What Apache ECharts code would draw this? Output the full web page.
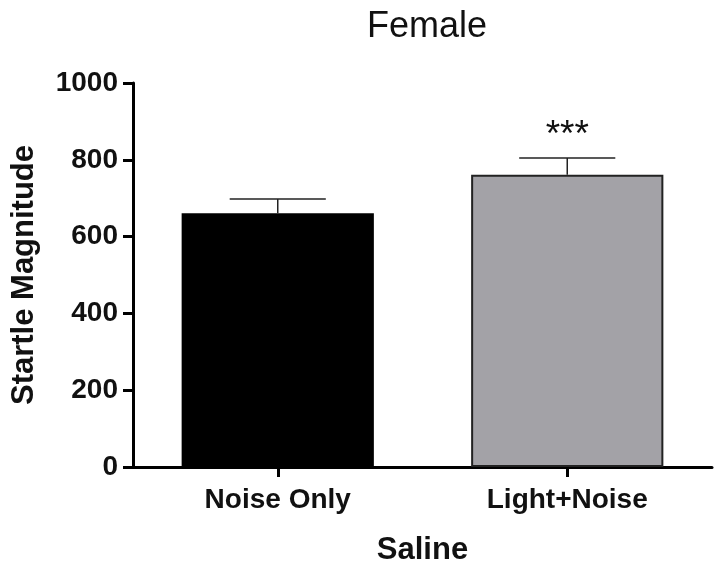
<!DOCTYPE html>
<html>
<head>
<meta charset="utf-8">
<script src="https://cdn.jsdelivr.net/npm/echarts@6/dist/echarts.min.js"></script>
<style>
  html, body { margin: 0; padding: 0; background: #fff; }
  #chart { width: 714px; height: 567px; }
</style>
</head>
<body>
<div id="chart"></div>
<script>
// ---- Data ----
const categories = ['Noise Only', 'Light+Noise'];
const means = [661, 761];
const sems = [37, 44];
const significance = ['', '***'];
const barColors = ['#000000', '#a3a2a7'];
const yMin = 0, yMax = 1000, yInterval = 200;
const titleText = 'Female';
const xAxisName = 'Saline';
const yAxisName = 'Startle Magnitude';

const FONT = '"Liberation Sans", Arial, Helvetica, sans-serif';

const chart = echarts.init(document.getElementById('chart'), null, { renderer: 'canvas' });

const barData = means.map((v, i) => ({
  value: v,
  itemStyle: {
    color: barColors[i],
    borderColor: i === 0 ? '#000' : '#222',
    borderWidth: i === 0 ? 0 : 2
  }
}));

const errData = means.map((v, i) => [i, v, sems[i]]);

const option = {
  animation: false,
  backgroundColor: '#ffffff',
  title: {
    text: titleText,
    left: 422,
    top: 4,
    textAlign: 'center',
    textStyle: { fontFamily: FONT, fontSize: 36, fontWeight: 'normal', color: '#111' }
  },
  grid: { left: 133, right: 2, top: 83, bottom: 100, containLabel: false, outerBoundsMode: 'none' },
  xAxis: {
    type: 'category',
    data: categories,
    boundaryGap: true,
    name: xAxisName,
    nameLocation: 'middle',
    nameGap: 68,
    nameTextStyle: { fontFamily: FONT, fontSize: 31, fontWeight: 'bold', color: '#111', verticalAlign: 'top' },
    axisLine: { show: true, lineStyle: { color: '#000', width: 3 } },
    axisTick: { show: true, alignWithLabel: true, length: 10, lineStyle: { color: '#000', width: 3 } },
    axisLabel: { fontFamily: FONT, fontSize: 28, fontWeight: 'bold', color: '#111', margin: 19 },
    splitLine: { show: false }
  },
  yAxis: {
    type: 'value',
    min: yMin,
    max: yMax,
    interval: yInterval,
    name: yAxisName,
    nameLocation: 'middle',
    nameRotate: 90,
    nameGap: 93,
    nameTextStyle: { fontFamily: FONT, fontSize: 31, fontWeight: 'bold', color: '#111' },
    axisLine: { show: true, lineStyle: { color: '#000', width: 3 } },
    axisTick: { show: true, length: 10, lineStyle: { color: '#000', width: 3 } },
    axisLabel: {
      fontFamily: FONT, fontSize: 28, fontWeight: 'bold', color: '#111', margin: 15,
      formatter: function (v) { return String(v); }
    },
    splitLine: { show: false }
  },
  series: [
    {
      type: 'bar',
      data: barData,
      barWidth: '66.4%',
      z: 2
    },
    {
      type: 'custom',
      data: errData,
      z: 5,
      renderItem: function (params, api) {
        const xi = api.value(0);
        const m = api.value(1);
        const e = api.value(2);
        const sig = significance[params.dataIndex];
        const base = api.coord([xi, m]);
        const top = api.coord([xi, m + e]);
        const half = api.size([1, 0])[0] * 0.166;
        const st = { stroke: '#222', lineWidth: 1.5 };
        const children = [
          { type: 'line', shape: { x1: base[0], y1: base[1], x2: top[0], y2: top[1] }, style: st },
          { type: 'line', shape: { x1: top[0] - half, y1: top[1], x2: top[0] + half, y2: top[1] }, style: st }
        ];
        if (sig) {
          children.push({
            type: 'text',
            style: {
              text: sig,
              x: top[0],
              y: top[1] - 4,
              align: 'center',
              verticalAlign: 'bottom',
              fontFamily: FONT,
              fontSize: 37,
              fill: '#111'
            }
          });
        }
        return { type: 'group', children: children };
      }
    }
  ]
};

chart.setOption(option);
</script>
</body>
</html>
